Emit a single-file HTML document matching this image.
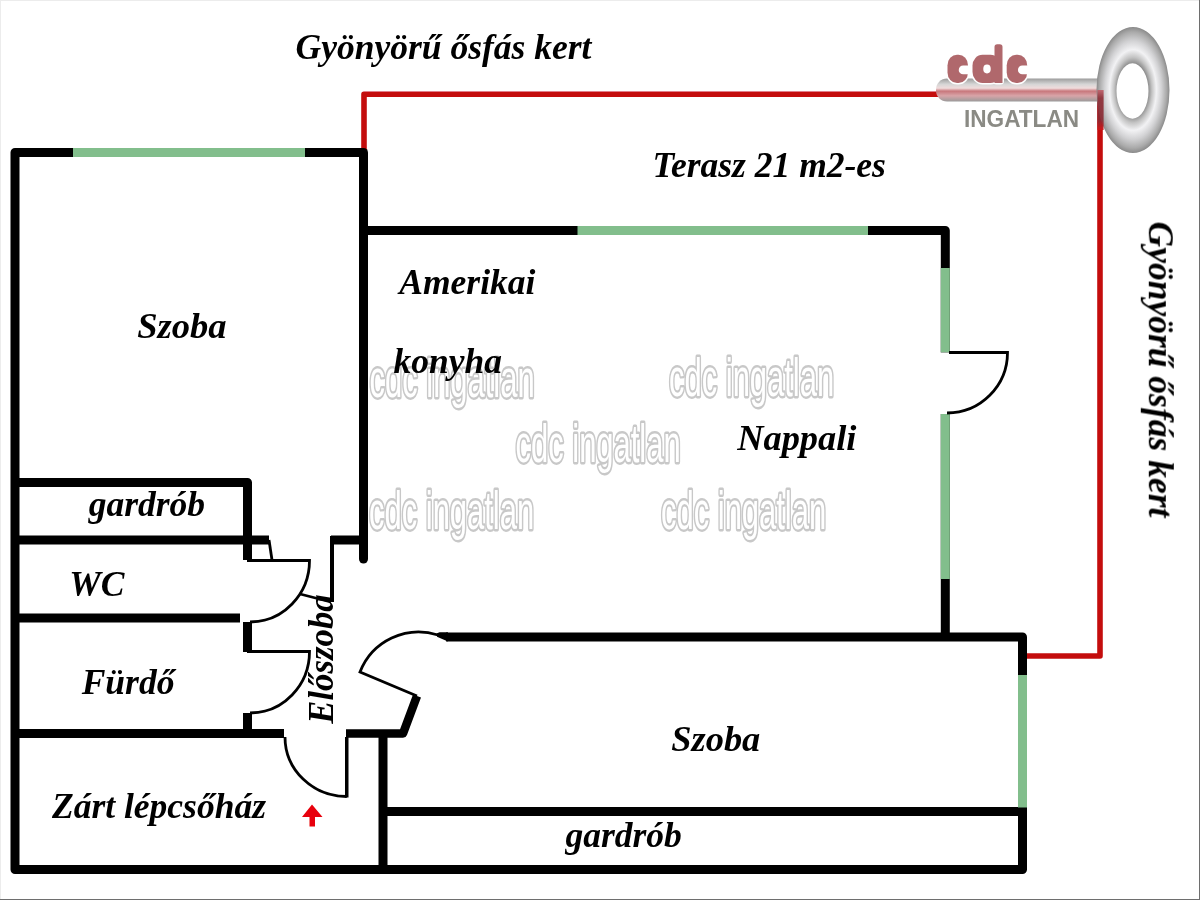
<!DOCTYPE html>
<html>
<head>
<meta charset="utf-8">
<style>
html,body{margin:0;padding:0;background:#fff;}
body{width:1200px;height:900px;overflow:hidden;position:relative;}
svg{position:absolute;left:0;top:0;display:block;}
.lbl{font-family:"Liberation Serif",serif;font-weight:bold;font-style:italic;font-size:35.5px;fill:#000;}
.wm{font-family:"Liberation Sans",sans-serif;font-weight:normal;font-size:40px;fill:#fff;stroke:#c8c8c8;stroke-width:3.6px;paint-order:stroke;stroke-linejoin:round;}
</style>
</head>
<body>
<svg width="1200" height="900" viewBox="0 0 1200 900">
<defs>
  <filter id="soft2" x="0" y="0" width="1200" height="900" filterUnits="userSpaceOnUse"><feGaussianBlur stdDeviation="0.45"/></filter>
  <filter id="soft" x="-5%" y="-5%" width="110%" height="110%"><feGaussianBlur stdDeviation="0.7"/></filter>
  <radialGradient id="ring" cx="0.5" cy="0.5" r="0.5">
    <stop offset="0.42" stop-color="#8c8c8c"/>
    <stop offset="0.52" stop-color="#c4c4c4"/>
    <stop offset="0.64" stop-color="#f2f2f4"/>
    <stop offset="0.78" stop-color="#d2d2d4"/>
    <stop offset="0.92" stop-color="#aaaaaa"/>
    <stop offset="1" stop-color="#8a8a8a"/>
  </radialGradient>
  <linearGradient id="shaft" x1="0" y1="0" x2="0" y2="1">
    <stop offset="0" stop-color="#9c9c9c"/>
    <stop offset="0.25" stop-color="#d6d6d6"/>
    <stop offset="0.42" stop-color="#f0dcdc"/>
    <stop offset="0.55" stop-color="#c8777c"/>
    <stop offset="0.75" stop-color="#d8a4a8"/>
    <stop offset="1" stop-color="#9a9a9a"/>
  </linearGradient>
</defs>
<!-- frame -->
<rect x="0" y="0" width="1200" height="1" fill="#ececec"/>
<rect x="0" y="0" width="1" height="900" fill="#ececec"/>
<rect x="1199" y="0" width="1" height="900" fill="#6e6e6e"/>
<rect x="0" y="899" width="1200" height="1" fill="#6e6e6e"/>

<g filter="url(#soft2)">
<!-- red terrace -->
<path d="M364 150 V94.3 H1100 V656 H1027" fill="none" stroke="#c40c0e" stroke-width="5.6" stroke-linejoin="round"/>

<!-- walls -->
<g fill="none" stroke="#000" stroke-width="9" stroke-linejoin="round">
  <path d="M363.5 152.5 H15 V869.5 H1022.5 V637 H446"/>
  <path d="M363.5 152.5 V559" stroke-linecap="round"/>
  <path d="M363.5 230.5 H945.3 V637"/>
  <path d="M383 811.5 H1022.5"/>
  <path d="M383 733.5 V869.5"/>
  <path d="M346 733.5 H403 L417 696" stroke-width="8.5"/>
  <path d="M15 733.5 H284"/>
  <path d="M247.5 713 V733.5"/>
  <path d="M247.5 622 V652"/>
  <path d="M15 618 H240"/>
  <path d="M15 482.5 H247.5 V560"/>
  <path d="M15 540 H269"/>
  <path d="M331 540 H363.5"/>
</g>
<path d="M436.5 633.6 L439.5 632.3 L448 632.3 L448 641.5 L437 636.8 Z" fill="#000"/>
<path d="M332 536 V602" stroke="#000" stroke-width="4" fill="none"/>

<!-- windows -->
<g fill="none" stroke="#82be8c" stroke-width="9">
  <path d="M73 152.5 H305"/>
  <path d="M577.5 230.5 H868"/>
  <path d="M945.3 268 V352.5"/>
  <path d="M945.3 414 V579"/>
  <path d="M1022.5 675 V807.5"/>
</g>
<!-- opening for nappali door -->
<rect x="939" y="352.5" width="13" height="61.5" fill="#fff"/>

<!-- doors -->
<g fill="none" stroke="#000" stroke-width="2.8">
  <path d="M247 560.5 H309.5 A59.5 61.5 0 0 1 250 622"/>
  <path d="M269 540 L272 560"/>
  <path d="M300 594 L331 602"/>
  <path d="M247 651.5 H309.5 A59.5 61.5 0 0 1 250 713"/>
  <path d="M285 737 A61.75 59.5 0 0 0 346.75 796.5"/>
  <path d="M417 696 L360 672 A63 63 0 0 1 438 635"/>
  <path d="M949 352.5 H1007.5 A60.5 60.5 0 0 1 947 413"/>
</g>
<path d="M346.75 797.5 V737" stroke="#000" stroke-width="3.5" fill="none"/>

<!-- red arrow -->
<path d="M312 804.5 L322.5 817 L315 817 L315 826.5 L309.5 826.5 L309.5 817 L302 817 Z" fill="#e8000a"/>

<!-- watermarks -->
<g class="wm" filter="url(#soft)">
  <text transform="translate(369.5 397) scale(0.774 1.32)">cdc ingatlan</text>
  <text transform="translate(669 396) scale(0.774 1.32)">cdc ingatlan</text>
  <text transform="translate(515.5 462) scale(0.774 1.32)">cdc ingatlan</text>
  <text transform="translate(369 529) scale(0.774 1.32)">cdc ingatlan</text>
  <text transform="translate(661 529) scale(0.774 1.32)">cdc ingatlan</text>
</g>

<!-- labels -->
<text class="lbl" x="295.6" y="58.8">Gyönyörű ősfás kert</text>
<text class="lbl" x="652.5" y="177.3">Terasz 21 m2-es</text>
<text class="lbl" transform="translate(137.2 338) scale(1.03 1)">Szoba</text>
<text class="lbl" x="399.3" y="294">Amerikai</text>
<text class="lbl" x="393.6" y="373.3">konyha</text>
<text class="lbl" transform="translate(737.2 450) scale(1.025 1)">Nappali</text>
<text class="lbl" x="88.7" y="516">gardrób</text>
<text class="lbl" x="69.2" y="595.8">WC</text>
<text class="lbl" x="81.7" y="694.2">Fürdő</text>
<text class="lbl" x="52" y="818">Zárt lépcsőház</text>
<text class="lbl" transform="translate(671.3 750.7) scale(1.025 1)">Szoba</text>
<text class="lbl" x="565.4" y="847">gardrób</text>
<text class="lbl" transform="translate(333.3 723.8) rotate(-90) scale(0.98 1)">Előszoba</text>
<text class="lbl" transform="translate(1148.8 221.5) rotate(90)">Gyönyörű ősfás kert</text>

<!-- logo -->
<g>
  <rect x="936" y="78.5" width="172" height="23" rx="11" fill="url(#shaft)"/>
  <path fill-rule="evenodd" fill="url(#ring)" d="M1133 27 A36.5 63 0 1 0 1133 153 A36.5 63 0 1 0 1133 27 Z M1132.5 63.3 A16 27.7 0 1 1 1132.5 118.7 A16 27.7 0 1 1 1132.5 63.3 Z"/>
  <g id="cdcw" fill="#fff" stroke="#fff" stroke-width="3" stroke-linejoin="round">
    <rect x="947.5" y="54.75" width="20.5" height="28.3" rx="9.5" ry="10.5"/>
    <rect x="972.5" y="54.75" width="28" height="28.3" rx="10" ry="11"/>
    <rect x="994.5" y="44.3" width="8" height="38.7" rx="2"/>
    <rect x="1006.7" y="54.75" width="20.5" height="28.3" rx="9.5" ry="10.5"/>
  </g>
  <g fill="#b0686c">
    <rect x="947.5" y="54.75" width="20.5" height="28.3" rx="9.5" ry="10.5"/>
    <rect x="972.5" y="54.75" width="28" height="28.3" rx="10" ry="11"/>
    <path d="M994.5 83 V47 Q994.5 44.3 997.2 44.3 H999.8 Q1002.5 44.3 1002.5 47 V83 Z"/>
    <rect x="1006.7" y="54.75" width="20.5" height="28.3" rx="9.5" ry="10.5"/>
  </g>
  <g fill="#fff">
    <path d="M963.1 65.5 H970 V74.25 H963.1 A4.375 4.375 0 0 1 963.1 65.5 Z"/>
    <path d="M1022.3 65.5 H1029 V74.25 H1022.3 A4.375 4.375 0 0 1 1022.3 65.5 Z"/>
    <ellipse cx="987" cy="69" rx="3.75" ry="4.4"/>
  </g>
  <linearGradient id="redfade" x1="0" y1="0" x2="0" y2="1"><stop offset="0" stop-color="#c0606a"/><stop offset="0.2" stop-color="#8e2c35"/><stop offset="0.75" stop-color="#8a2a33"/><stop offset="1" stop-color="#d01818"/></linearGradient>
  <rect x="1097.4" y="90" width="6.2" height="40" fill="url(#redfade)" opacity="0.9"/>
  <text x="964" y="127.2" font-family="Liberation Sans" font-weight="bold" font-size="24" fill="#8a8a84" textLength="115" lengthAdjust="spacingAndGlyphs">INGATLAN</text>
</g>
</g>
</svg>
</body>
</html>
